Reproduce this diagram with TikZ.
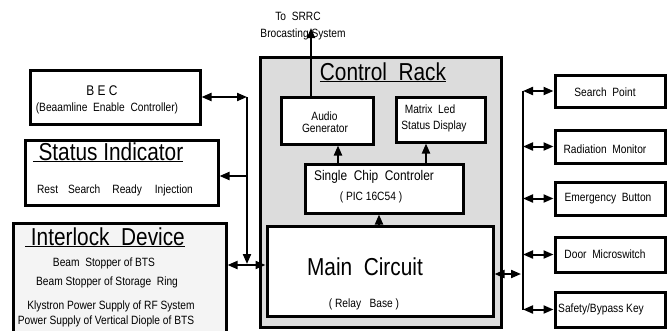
\documentclass[tikz,border=0pt]{standalone}
\usepackage{fontspec}
\setmainfont{Liberation Sans}[FakeStretch=0.85]
\usetikzlibrary{arrows.meta}
\definecolor{rackgray}{HTML}{DCDCDC}
\definecolor{ilgray}{HTML}{F4F4F4}
\begin{document}
\begin{tikzpicture}[x=1pt,y=-1pt,
  box/.style={draw=black,line width=3pt,fill=white,inner sep=0pt},
  lbl/.style={inner sep=0pt,anchor=base},
  fsS/.style={font=\fontsize{12}{14}\selectfont},
  fsM/.style={font=\fontsize{14}{16}\selectfont},
  fsL/.style={font=\fontsize{24.5}{28}\selectfont},
  con/.style={line width=2pt,-{Triangle[length=10pt,width=8pt]}},
  bi/.style={line width=2pt,{Triangle[length=10pt,width=8pt]}-{Triangle[length=10pt,width=8pt]}},
  ln/.style={line width=2pt}]
\useasboundingbox (0,0) rectangle (668,330);
\clip (0,0) rectangle (668,330);

% left boxes
\node[box,minimum width=170,minimum height=54] (bec) at (115,97) {};
\node[box,minimum width=193,minimum height=65] (stat) at (121.5,172.5) {};
\node[box,fill=ilgray,minimum width=213,minimum height=109] (il) at (119.5,277.5) {};

% control rack
\node[box,fill=rackgray,minimum width=241,minimum height=270] (rack) at (380.5,192) {};
\node[box,minimum width=92,minimum height=47] (audio) at (327,120.5) {};
\node[box,minimum width=89,minimum height=45] (matrix) at (440.5,119.5) {};
\node[box,minimum width=158,minimum height=49] (single) at (384,188.5) {};
\node[box,minimum width=226,minimum height=90] (main) at (380,271) {};

% right boxes
\node[box,minimum width=110,minimum height=32] (sp) at (610,91) {};
\node[box,minimum width=110,minimum height=33] (rm) at (610,146.5) {};
\node[box,minimum width=110,minimum height=33] (eb) at (610,198.5) {};
\node[box,minimum width=110,minimum height=35] (dm) at (610,254.5) {};
\node[box,minimum width=110,minimum height=35] (sk) at (610,309.5) {};

% texts
\node[lbl,fsM] (becT) at (102,95) {B E C};
\node[lbl,fsS] (becS) at (107,111) {(Beaamline\ \ Enable\ \ Controller)};
\node[lbl,fsL] (statT) at (108,160) {\underline{\ Status Indicator}};
\node[lbl,fsS] (statS) at (115,193) {Rest\hspace{10pt}Search\hspace{12pt}Ready\hspace{13pt}Injection};
\node[lbl,fsL] (ilT) at (105,245) {\underline{\ Interlock\ \ Device}};
\node[lbl,fsS] (il1) at (104,266) {Beam\ \ Stopper of BTS};
\node[lbl,fsS] (il2) at (107,285) {Beam Stopper of Storage\ \ Ring};
\node[lbl,fsS] (il3) at (111,309) {Klystron Power Supply of RF System};
\node[lbl,fsS] (il4) at (106,324) {Power Supply of Vertical Diople of BTS};

\node[lbl,fsL] (rackT) at (383,80) {\underline{Control\ \ Rack}};
\node[lbl,fsS] (au1) at (324.5,120) {Audio};
\node[lbl,fsS] (au2) at (325,132) {Generator};
\node[lbl,fsS] (mx1) at (430,113) {Matrix\ \ Led};
\node[lbl,fsS] (mx2) at (434,129) {Status Display};
\node[lbl,fsM] (sc1) at (374,180) {Single\ \ Chip\ \ Controler};
\node[lbl,fsS] (sc2) at (371,200) {( PIC 16C54 )};
\node[lbl,fsL] (mc1) at (365,275) {Main\ \ Circuit};
\node[lbl,fsS] (mc2) at (364,307) {( Relay\ \ \ Base )};
\node[lbl,fsS] (to1) at (298,20) {To\ \ SRRC};
\node[lbl,fsS] (to2) at (303,37) {Brocasting System};

\node[lbl,fsS] (spT) at (605,96) {Search\ \ Point};
\node[lbl,fsS] (rmT) at (605,153) {Radiation\ \ Monitor};
\node[lbl,fsS] (ebT) at (608,201) {Emergency\ \ Button};
\node[lbl,fsS] (dmT) at (605,258) {Door\ \ Microswitch};
\node[lbl,fsS] (skT) at (601,312) {Safety/Bypass Key};

% connectors inside rack
\coordinate (xs) at (311,0);
\coordinate (srrc) at (311,28);
\coordinate (xa) at (338,0);
\coordinate (xm) at (426,0);
\coordinate (xc) at (379,0);
\draw[con] (xs |- audio.north) -- (srrc);
\draw[con] (xa |- single.north) -- (xa |- audio.south);
\draw[con] (xm |- single.north) -- (xm |- matrix.south);
\draw[con] (xc |- main.north) -- (xc |- single.south);

% left connectors
\coordinate (lt) at (247,97);
\coordinate (lb) at (247,264);
\coordinate (ls) at (247,176);
\coordinate (lh) at (247,265);
\draw[bi] (bec.east) -- (lt);
\draw[con] (lt) -- (lb);
\draw[con] (ls) -- (ls -| stat.east);
\draw[bi] (lh -| il.east) -- (lh -| main.west);

% right connectors
\coordinate (rj) at (523,0);
\coordinate (rmid) at (521,274);
\draw[bi] (rmid -| main.east) -- (rmid);
\draw[ln] (rj |- sp.west) -- (rj |- sk.west);
\draw[bi] (rj |- sp.west) -- (sp.west);
\draw[bi] (rj |- rm.west) -- (rm.west);
\draw[bi] (rj |- eb.west) -- (eb.west);
\draw[bi] (rj |- dm.west) -- (dm.west);
\draw[bi] (rj |- sk.west) -- (sk.west);
\end{tikzpicture}
\end{document}
